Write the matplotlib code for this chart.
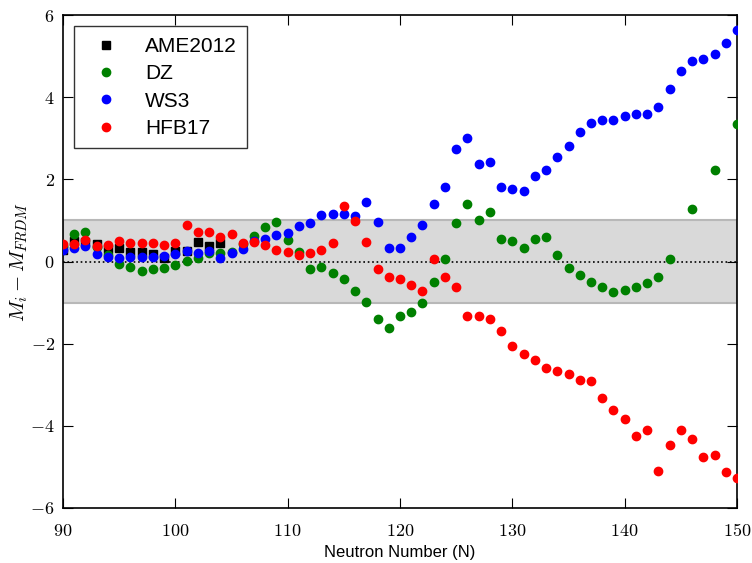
import numpy as np
from matplotlib import pyplot as plt

plt.rcParams['mathtext.fontset'] = 'cm'
plt.rcParams['font.family'] = ['Liberation Sans', 'DejaVu Sans']

# AME2012 experimental values
ame_n = [90, 91, 92, 93, 94, 95, 96, 97, 98, 99, 100, 101, 102, 103, 104]
ame_v = [0.27, 0.49, 0.48, 0.43, 0.30, 0.33, 0.24, 0.24, 0.18, 0.08, 0.26, 0.25, 0.48, 0.37, 0.45]

# DZ model
dz_n = list(range(90, 145)) + [146, 148, 150]
dz_v = [0.38, 0.67, 0.72, 0.35, 0.17, -0.06, -0.14, -0.24, -0.18, -0.17,
        -0.09, 0.02, 0.08, 0.20, 0.20, 0.24, 0.42, 0.63, 0.85, 0.95,
        0.53, 0.22, -0.19, -0.14, -0.28, -0.43, -0.73, -0.99, -1.40, -1.61,
        -1.32, -1.22, -1.01, -0.49, 0.05, 0.94, 1.39, 1.00, 1.20, 0.55,
        0.51, 0.32, 0.55, 0.59, 0.15, -0.17, -0.32, -0.51, -0.62, -0.75,
        -0.69, -0.61, -0.53, -0.37, 0.06, 1.28, 2.23, 3.35]

# WS3 model
ws3_n = list(range(90, 151))
ws3_v = [0.27, 0.34, 0.37, 0.19, 0.11, 0.08, 0.10, 0.10, 0.10, 0.14,
         0.19, 0.25, 0.20, 0.26, 0.08, 0.21, 0.31, 0.50, 0.55, 0.65,
         0.69, 0.87, 0.93, 1.14, 1.16, 1.16, 1.10, 1.44, 0.95, 0.33,
         0.32, 0.59, 0.88, 1.41, 1.82, 2.73, 3.00, 2.37, 2.43, 1.82,
         1.77, 1.71, 2.07, 2.23, 2.54, 2.80, 3.15, 3.36, 3.44, 3.44,
         3.55, 3.59, 3.58, 3.77, 4.19, 4.63, 4.89, 4.94, 5.05, 5.33,
         5.63]

# HFB17 model
hfb_n = list(range(90, 151))
hfb_v = [0.42, 0.42, 0.53, 0.38, 0.41, 0.49, 0.44, 0.46, 0.46, 0.40,
         0.46, 0.88, 0.72, 0.72, 0.59, 0.66, 0.45, 0.48, 0.39, 0.28,
         0.24, 0.15, 0.20, 0.27, 0.45, 1.36, 0.98, 0.47, -0.19, -0.37,
         -0.42, -0.57, -0.73, 0.06, -0.37, -0.61, -1.33, -1.32, -1.40, -1.70,
         -2.06, -2.25, -2.39, -2.60, -2.67, -2.75, -2.88, -2.92, -3.32, -3.62,
         -3.84, -4.24, -4.10, -5.09, -4.46, -4.10, -4.33, -4.75, -4.72, -5.12,
         -5.28]

xticks = [90, 100, 110, 120, 130, 140, 150]
yticks = [-6, -4, -2, 0, 2, 4, 6]

fig = plt.figure(figsize=(7.52, 5.63), dpi=100)
ax = fig.add_axes([63 / 752, 1 - 508 / 563, 674 / 752, 493 / 563])

# Shaded +/- 1 band and zero line
ax.axhspan(-1, 1, facecolor='#d9d9d9', edgecolor='#b8b8b8', lw=1.5, zorder=0)
ax.axhline(0, color='k', ls=':', lw=1.2, zorder=1)

ms = 6
ax.plot(ame_n, ame_v, 's', color='k', mec='k', ms=ms, label='AME2012', zorder=3)
ax.plot(dz_n, dz_v, 'o', color='g', mec='g', ms=ms, label='DZ', zorder=3)
ax.plot(ws3_n, ws3_v, 'o', color='b', mec='b', ms=ms, label='WS3', zorder=3)
ax.plot(hfb_n, hfb_v, 'o', color='r', mec='r', ms=ms, label='HFB17', zorder=3)

ax.set_xlim(90, 150)
ax.set_ylim(-6, 6)
ax.set_xticks(xticks)
ax.set_yticks(yticks)
ax.set_xticklabels([f'${v}$' for v in xticks], fontsize=13)
ax.set_yticklabels([f'${v}$' for v in yticks], fontsize=13)
ax.tick_params(direction='in', top=True, right=True, length=7, width=0.8)
ax.tick_params(axis='x', pad=11)
ax.tick_params(axis='y', pad=6)
for s in ax.spines.values():
    s.set_linewidth(1.2)

ax.set_xlabel('Neutron Number (N)', fontsize=12, va='center')
ax.xaxis.set_label_coords(0.5, -44 / 493)
ax.set_ylabel('$M_i - M_{FRDM}$', fontsize=15, labelpad=0)

leg = ax.legend(loc='upper left', numpoints=1, fontsize=15, fancybox=False,
                borderpad=0.5, labelspacing=0.4, handletextpad=0.9,
                borderaxespad=0.55)
leg.get_frame().set_edgecolor('k')
leg.get_frame().set_linewidth(1.0)

fig.savefig('out.png', dpi=100)
